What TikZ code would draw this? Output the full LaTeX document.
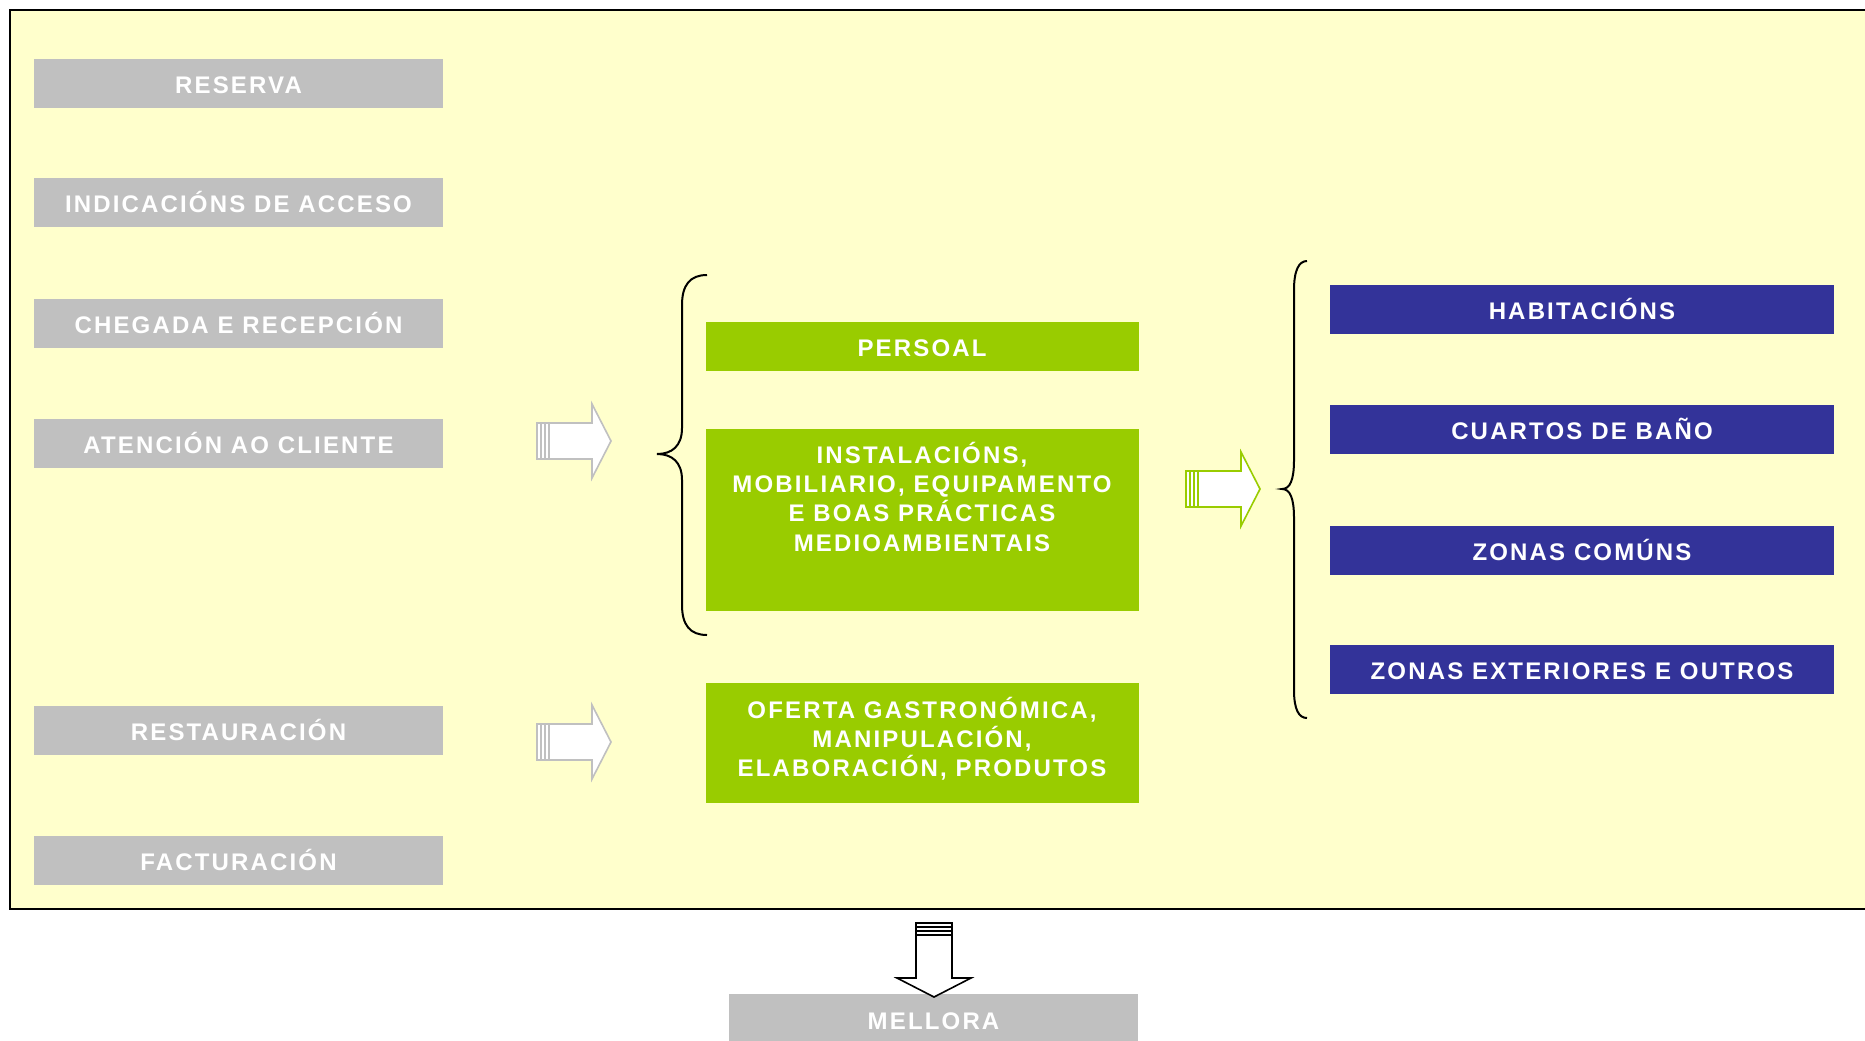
\documentclass[tikz,border=0pt]{standalone}
\usepackage{fontspec}
\setmainfont{Liberation Sans}[LetterSpace=9]
\usepackage{xcolor}
\usepackage{tikz}
\usetikzlibrary{positioning}

\definecolor{panel}{HTML}{FFFFCC}
\definecolor{boxgrey}{HTML}{C0C0C0}
\definecolor{boxgreen}{HTML}{99CC00}
\definecolor{boxblue}{HTML}{333399}

\begin{document}
\begin{tikzpicture}[x=0.75pt,y=-0.75pt,
    blockarrow/.pic={
      \path[pic actions] (0,-18) rectangle (4,18) (4,-18) rectangle (8,18) (8,-18) rectangle (12,18);
      \path[pic actions] (12,-18) -- (55,-18) -- (55,-37) -- (74,0) -- (55,37) -- (55,18) -- (12,18) -- cycle;
    }]
	\tikzstyle{box}=[inner sep=0pt, text=white, align=center, font=\fontsize{18pt}{22pt}\selectfont\bfseries]
	\tikzstyle{oneline}=[text height=15.6pt, text depth=0pt]
	\tikzstyle{greybox}=[box, oneline, fill=boxgrey, minimum width=306.75pt, minimum height=36.75pt]
	\tikzstyle{greenbox}=[box, fill=boxgreen, minimum width=324.75pt, minimum height=36.75pt]
	\tikzstyle{bluebox}=[box, oneline, fill=boxblue, minimum width=378pt, minimum height=36.75pt]
	\tikzstyle{brace}=[line width=1.5pt, black]

	\clip (0,0) rectangle (1865,1040);
	\draw[fill=panel, line width=1.5pt] (10,10) rectangle (1880,909);

	% left column
	\node[greybox](g1) at (238.5,83) {RESERVA};
	\node[greybox](g2) at (238.5,202.5) {INDICACIÓNS DE ACCESO};
	\node[greybox](g3) at (238.5,323) {CHEGADA E RECEPCIÓN};
	\node[greybox](g4) at (238.5,443) {ATENCIÓN AO CLIENTE};
	\node[greybox](g5) at (238.5,730.5) {RESTAURACIÓN};
	\node[greybox](g6) at (238.5,860.5) {FACTURACIÓN};

	% middle column
	\node[greenbox, oneline](v1) at (922,346.5) {PERSOAL};
	\node[greenbox, minimum height=136.5pt](v2) at (922,520)
		{INSTALACIÓNS,\\MOBILIARIO, EQUIPAMENTO\\E BOAS PRÁCTICAS\\MEDIOAMBIENTAIS\\[13pt]~};
	\node[greenbox, minimum height=90pt](v3) at (922,743)
		{OFERTA GASTRONÓMICA,\\MANIPULACIÓN,\\ELABORACIÓN, PRODUTOS\\[-13pt]~};

	% right column
	\node[bluebox](b1) at (1582,309.5) {HABITACIÓNS};
	\node[bluebox](b2) at (1582,429.5) {CUARTOS DE BAÑO};
	\node[bluebox](b3) at (1582,550) {ZONAS COMÚNS};
	\node[bluebox](b4) at (1582,669.5) {ZONAS EXTERIORES E OUTROS};

	\node[greybox, minimum height=37.5pt](m1) at (933.5,1019) {MELLORA};

	% braces
	\draw[brace] (707,275) .. controls (690,275) and (682,285) .. (682,305) -- (682,428)
		.. controls (682,446) and (672,454) .. (657,454)
		.. controls (672,454) and (682,462) .. (682,480) -- (682,605)
		.. controls (682,625) and (690,635) .. (707,635);
	\draw[brace] (1307,261) .. controls (1299,261) and (1294,270) .. (1294,290) -- (1294,460)
		.. controls (1294,480) and (1290,489) .. (1282,489)
		.. controls (1290,489) and (1294,498) .. (1294,518) -- (1294,690)
		.. controls (1294,710) and (1299,718) .. (1307,718);

	% arrows
	\coordinate (a1) at (537,441);
	\coordinate (a2) at (537,742);
	\coordinate (a3) at (1186,489);
	\coordinate (a4) at (934,923);
	\pic[draw=boxgrey, fill=white, line width=1.2pt] at (a1) {blockarrow};
	\pic[draw=boxgrey, fill=white, line width=1.2pt] at (a2) {blockarrow};
	\pic[draw=boxgreen, fill=white, line width=1.2pt] at (a3) {blockarrow};
	\pic[draw=black, fill=white, line width=1.2pt, rotate=-90] at (a4) {blockarrow};
\end{tikzpicture}
\end{document}
